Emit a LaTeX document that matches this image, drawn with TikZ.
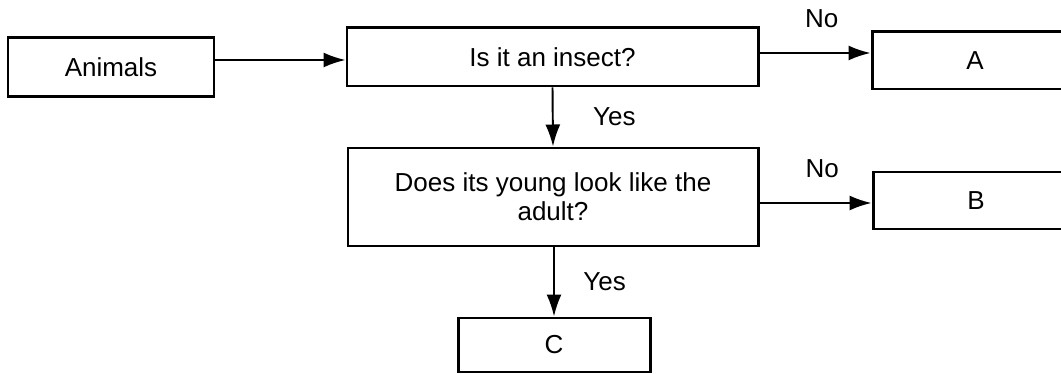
\documentclass[tikz,border=0pt]{standalone}
\usepackage{fontspec}
\setmainfont{Liberation Sans}
\usepackage{tikz}
\usetikzlibrary{arrows.meta,positioning}
\tikzset{
  box/.style={
    shape = rectangle,
    draw,
    line width=1.7pt,
    inner sep=2pt,
    align=center
  },
  flow/.style={
    line width=1.1pt,
    -{Latex[length=4.4mm,width=3.0mm]}
  },
  lbl/.style={
    inner sep=2pt
  },
  every picture/.style = {
    font=\fontsize{14.8}{16.5}\selectfont
  }
}
\begin{document}
\begin{tikzpicture}
        \clip (0.0,0.0) rectangle (21.22,7.48);
        \node[box, minimum width=4.12cm, minimum height=1.18cm] (animals) at (2.22,6.14) {Animals};
        \node[box, minimum width=8.22cm, minimum height=1.16cm] (insect) at (11.05,6.34) {Is it an insect?};
        \node[box, minimum width=4.12cm, minimum height=1.14cm] (A) at (19.50,6.27) {A};
        \node[box, minimum width=8.20cm, minimum height=1.96cm] (young) at (11.06,3.54) {Does its young look like the\\adult?};
        \node[box, minimum width=4.12cm, minimum height=1.14cm] (B) at (19.52,3.47) {B};
        \node[box, minimum width=3.84cm, minimum height=1.08cm] (C) at (11.08,0.58) {C};
        \draw[flow] (animals.east |- 0,6.28) -- (insect.west |- 0,6.28);
        \draw[flow] (insect.east |- 0,6.42) -- node[lbl, above=0.42cm, pos=0.56] {No} (A.west |- 0,6.42);
        \draw[flow] (insect.south) -- node[lbl, right=0.72cm] {Yes} (young.north);
        \draw[flow] (young.east |- 0,3.42) -- node[lbl, above=0.42cm, pos=0.56] {No} (B.west |- 0,3.42);
        \draw[flow] (young.south -| C.north) -- node[lbl, right=0.5cm] {Yes} (C.north);
\end{tikzpicture}
\end{document}
